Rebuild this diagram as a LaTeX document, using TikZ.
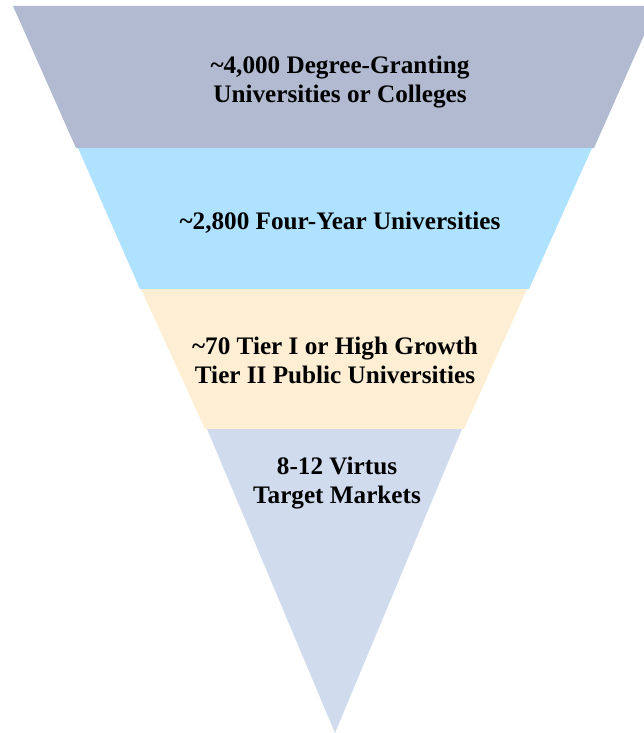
\documentclass[tikz,border=0pt]{standalone}
\usepackage{fontspec}
\setmainfont{Liberation Serif}
\definecolor{bandA}{HTML}{B1BAD0}
\definecolor{bandB}{HTML}{AEE2FF}
\definecolor{bandC}{HTML}{FEEFD4}
\definecolor{bandD}{HTML}{D0DCEE}
\begin{document}
\begin{tikzpicture}[x=1pt,y=-1pt,
  lbl/.style={font=\bfseries\fontsize{25.2}{28.7}\selectfont, align=center, text=black, inner sep=0pt}]
\useasboundingbox (0,0) rectangle (644,733);
% funnel bands, clipped to the page
\begin{scope}
  \clip (0,0) rectangle (644,733);
  \fill[bandA] (13,6) -- (657,6) -- (594,148) -- (76,148) -- cycle;
  \fill[bandB] (78,148) -- (592,148) -- (529,289) -- (140,289) -- cycle;
  \fill[bandC] (141,289) -- (527,289) -- (464,429) -- (205,429) -- cycle;
  \fill[bandD] (207,429) -- (462,429) -- (335,733) -- cycle;
\end{scope}
% labels
\node[lbl] (l1) at (340,82) {\textasciitilde 4,000 Degree-Granting\\Universities or Colleges};
\node[lbl] (l2) at (340,222.5) {\textasciitilde 2,800 Four-Year Universities};
\node[lbl] (l3) at (335,360.5) {\textasciitilde 70 Tier I or High Growth\\Tier II Public Universities};
\node[lbl] (l4) at (337,483) {8-12 Virtus\\Target Markets};
\end{tikzpicture}
\end{document}
